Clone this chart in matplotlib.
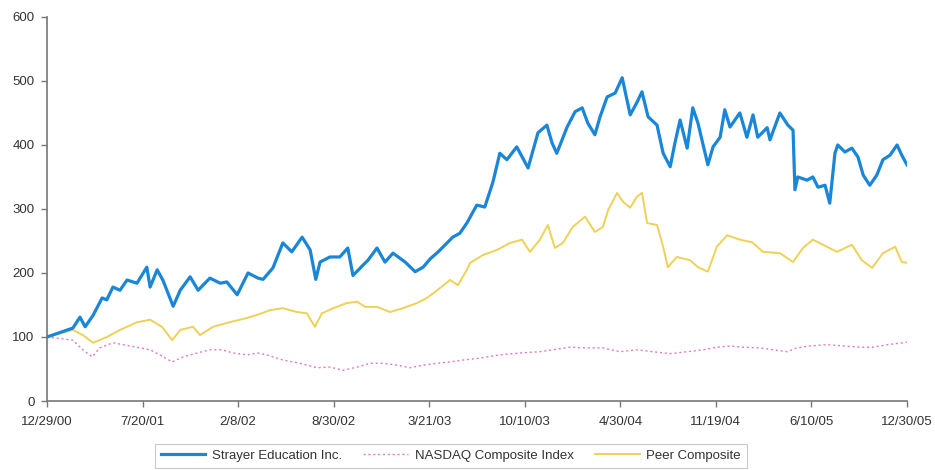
import numpy as np
import matplotlib.pyplot as plt

# x values are days since 12/29/00
tick_days = [0, 203, 406, 609, 812, 1015, 1218, 1421, 1624, 1827]
tick_labels = ['12/29/00', '7/20/01', '2/8/02', '8/30/02', '3/21/03',
               '10/10/03', '4/30/04', '11/19/04', '6/10/05', '12/30/05']

strayer_days = [0, 55, 70, 81, 98, 117, 127, 140, 155, 170, 191, 212, 219, 234, 246,
                268, 283, 304, 321, 346, 368, 382, 404, 427, 448, 459, 480, 501, 520,
                542, 559, 571, 580, 601, 622, 639, 650, 671, 682, 701, 718, 735, 761,
                782, 799, 814, 831, 850, 862, 877, 892, 913, 930, 947, 962, 977, 998,
                1022, 1043, 1062, 1073, 1083, 1105, 1122, 1137, 1149, 1164, 1175, 1190,
                1207, 1222, 1239, 1253, 1264, 1277, 1296, 1309, 1324, 1334, 1345, 1360,
                1372, 1383, 1404, 1415, 1430, 1440, 1451, 1472, 1487, 1500, 1510, 1530,
                1536, 1557, 1574, 1585, 1589, 1595, 1615, 1627, 1638, 1653, 1663, 1674,
                1680, 1695, 1710, 1723, 1734, 1748, 1763, 1776, 1791, 1806, 1816, 1827]
strayer_vals = [100, 114, 131, 116, 134, 161, 158, 178, 173, 189, 184, 209, 178, 205, 189,
                148, 173, 194, 173, 192, 184, 186, 166, 200, 192, 190, 208, 247, 233,
                256, 236, 190, 217, 225, 225, 239, 196, 212, 220, 239, 217, 231, 217,
                202, 209, 222, 233, 247, 256, 262, 278, 306, 303, 341, 387, 377, 397,
                364, 419, 431, 403, 387, 428, 452, 458, 434, 416, 444, 475,
                481, 505, 447, 466, 483, 444, 431, 387, 366, 403, 439, 395,
                458, 434, 369, 397, 412, 455, 428, 450, 412, 447, 412, 427,
                408, 450, 431, 423, 330, 350, 345, 350, 334, 337, 309, 387,
                400, 389, 395, 381, 353, 337, 353, 377, 384, 400, 384, 369]

nasdaq_days = [0, 55, 76, 96, 112, 140, 161, 198, 219, 240, 266, 289, 319, 346, 372,
               395, 425, 448, 467, 501, 537, 574, 601, 629, 659, 686, 714, 744, 771,
               799, 829, 856, 884, 920, 962, 1005, 1047, 1075, 1111, 1147, 1181, 1217,
               1253, 1287, 1324, 1360, 1394, 1423, 1451, 1479, 1515, 1542, 1572, 1593,
               1621, 1657, 1691, 1727, 1755, 1785, 1819, 1827]
nasdaq_vals = [100, 95, 80, 69, 83, 91, 88, 83, 80, 72, 61, 69, 75, 80, 80,
               75, 72, 75, 72, 64, 59, 52, 53, 48, 53, 59, 59, 56, 52,
               56, 59, 61, 64, 67, 72, 75, 77, 80, 84, 83, 83, 77,
               80, 77, 74, 77, 80, 84, 86, 84, 83, 80, 77, 83,
               86, 88, 86, 84, 84, 88, 91, 92]

peer_days = [0, 55, 76, 98, 127, 155, 191, 219, 244, 266, 283, 310, 325, 353, 382,
             410, 431, 452, 474, 501, 531, 552, 569, 584, 608, 637, 659, 676, 701,
             729, 756, 786, 807, 829, 856, 873, 892, 899, 926, 956, 984, 1009, 1026,
             1047, 1064, 1079, 1096, 1117, 1143, 1164, 1181, 1192, 1211, 1224, 1239,
             1253, 1264, 1275, 1296, 1309, 1319, 1338, 1366, 1383, 1404, 1423, 1445,
             1472, 1498, 1521, 1557, 1585, 1606, 1627, 1657, 1678, 1710, 1731, 1753,
             1776, 1802, 1816, 1827]
peer_vals = [100, 111, 103, 91, 100, 111, 123, 127, 116, 95, 111, 116, 103, 116, 122,
             127, 131, 136, 142, 145, 139, 137, 116, 137, 145, 153, 155, 147, 147,
             139, 145, 153, 161, 173, 189, 181, 205, 216, 228, 236, 247, 252, 233,
             252, 275, 239, 247, 272, 288, 264, 272, 298, 325, 311, 302,
             319, 325, 278, 275, 241, 209, 225, 220, 209, 202, 241, 259,
             252, 248, 233, 231, 217, 239, 252, 241, 233, 244, 220, 208,
             231, 241, 217, 216]

plt.rcParams['font.family'] = 'Liberation Sans'

fig = plt.figure(figsize=(9.35, 4.7), dpi=100)
ax = fig.add_axes([0.0503, 0.1468, 0.9197, 0.8172])

ax.plot(strayer_days, strayer_vals, color='#1a86d8', linewidth=2.3,
        label='Strayer Education Inc.', zorder=3)
ax.plot(nasdaq_days, nasdaq_vals, color='#e07cc0', linewidth=1.0,
        linestyle=(0, (1.5, 2)), label='NASDAQ Composite Index', zorder=2)
ax.plot(peer_days, peer_vals, color='#efd156', linewidth=1.4,
        label='Peer Composite', zorder=2)

ax.set_xlim(0, 1827)
ax.set_ylim(0, 600)
ax.set_yticks(range(0, 601, 100))
ax.set_xticks(tick_days)
ax.set_xticklabels(tick_labels)

for side in ['top', 'right']:
    ax.spines[side].set_visible(False)
for side in ['left', 'bottom']:
    ax.spines[side].set_color('#777777')
    ax.spines[side].set_linewidth(1.2)
ax.tick_params(axis='both', colors='#777777', labelcolor='#333333',
               labelsize=9.5, length=4, width=1)
ax.tick_params(axis='x', pad=7)
ax.tick_params(axis='y', pad=5)

leg = fig.legend(loc='center', bbox_to_anchor=(0.482, 0.03), ncol=3,
                 fontsize=9.5, frameon=True, fancybox=False, handlelength=3.4,
                 columnspacing=1.6, borderpad=0.45, handletextpad=0.5)
leg.get_frame().set_edgecolor('#bbbbbb')
leg.get_frame().set_linewidth(0.8)
for t in leg.get_texts():
    t.set_color('#333333')

fig.savefig('out.png', dpi=100)
